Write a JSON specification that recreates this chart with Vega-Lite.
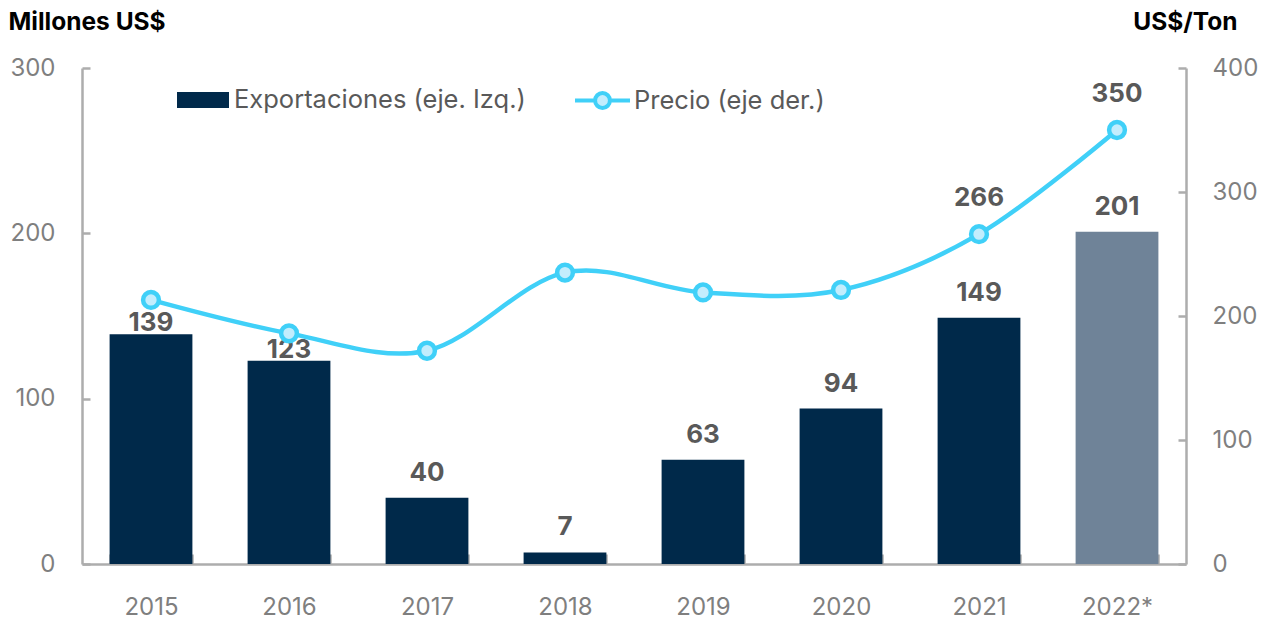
{
  "$schema": "https://vega.github.io/schema/vega-lite/v6.json",
  "width": 1104,
  "height": 496,
  "autosize": {"type": "none"},
  "padding": {"left": 82, "top": 68, "right": 83, "bottom": 57},
  "background": "white",
  "config": {
    "view": {"stroke": null},
    "font": "Inter",
    "axis": {
      "grid": false,
      "domainColor": "#ADADAD",
      "domainWidth": 2.5,
      "tickColor": "#ADADAD",
      "tickWidth": 2.5,
      "labelFont": "Inter",
      "labelFontSize": 24,
      "labelColor": "#7F7F7F",
      "titleFont": "Inter",
      "titleFontSize": 24.5,
      "titleFontWeight": "bold",
      "titleColor": "#000000"
    }
  },
  "data": {
    "values": [
      {"year": "2015", "exports": 139, "price": 213},
      {"year": "2016", "exports": 123, "price": 186},
      {"year": "2017", "exports": 40, "price": 172},
      {"year": "2018", "exports": 7, "price": 235},
      {"year": "2019", "exports": 63, "price": 219},
      {"year": "2020", "exports": 94, "price": 221},
      {"year": "2021", "exports": 149, "price": 266},
      {"year": "2022*", "exports": 201, "price": 350}
    ]
  },
  "encoding": {
    "x": {
      "field": "year",
      "type": "nominal",
      "sort": null,
      "scale": {"paddingInner": 0.4, "paddingOuter": 0.2},
      "axis": {
        "title": null,
        "labelAngle": 0,
        "tickBand": "extent",
        "tickSize": -10,
        "labelPadding": 41,
        "labelBaseline": "top"
      }
    }
  },
  "layer": [
    {
      "encoding": {
        "y": {
          "field": "exports",
          "type": "quantitative",
          "scale": {"domain": [0, 300]},
          "axis": {
            "orient": "left",
            "values": [0, 100, 200, 300],
            "tickSize": -8,
            "labelPadding": 35,
            "title": "Millones US$",
            "titleAngle": 0,
            "titleAlign": "left",
            "titleBaseline": "middle",
            "titleX": -74,
            "titleY": -46
          }
        }
      },
      "layer": [
        {
          "mark": {"type": "bar"},
          "encoding": {
            "color": {
              "condition": {"test": "datum.year === '2022*'", "value": "#6F8398"},
              "datum": "Exportaciones (eje. Izq.)",
              "scale": {"range": ["#00294A"]},
              "legend": {
                "title": null,
                "orient": "none",
                "legendX": 95,
                "legendY": 6,
                "symbolType": "M-1,-0.3077H1V0.3077H-1Z",
                "symbolSize": 2704,
                "symbolStrokeWidth": 0,
                "labelFont": "Inter",
                "labelFontSize": 25.5,
                "labelColor": "#595959",
                "labelOffset": 5,
                "labelLimit": 500,
                "padding": 0
              }
            }
          }
        },
        {
          "transform": [{"filter": "datum.year === '2015' || datum.year === '2016'"}],
          "mark": {"type": "text", "baseline": "alphabetic", "dy": -3, "fontSize": 26, "fontWeight": "bold", "color": "#595959", "font": "Inter"},
          "encoding": {"text": {"field": "exports", "type": "quantitative"}}
        },
        {
          "transform": [{"filter": "datum.year !== '2015' && datum.year !== '2016'"}],
          "mark": {"type": "text", "baseline": "alphabetic", "dy": -17, "fontSize": 26, "fontWeight": "bold", "color": "#595959", "font": "Inter"},
          "encoding": {"text": {"field": "exports", "type": "quantitative"}}
        }
      ]
    },
    {
      "encoding": {
        "y": {
          "field": "price",
          "type": "quantitative",
          "scale": {"domain": [0, 400]},
          "axis": {
            "orient": "right",
            "values": [0, 100, 200, 300, 400],
            "tickSize": -8,
            "labelPadding": 34,
            "title": "US$/Ton",
            "titleAngle": 0,
            "titleAlign": "right",
            "titleBaseline": "middle",
            "titleX": 51,
            "titleY": -46
          }
        }
      },
      "layer": [
        {
          "mark": {"type": "line", "interpolate": "cardinal", "strokeWidth": 4.5},
          "encoding": {
            "stroke": {
              "datum": "Precio (eje der.)",
              "scale": {"range": ["#40D0F8"]},
              "legend": {
                "title": null,
                "orient": "none",
                "legendX": 491,
                "legendY": 3,
                "symbolType": "M-1,0H-0.27M0.27,0H1M-0.27,0A0.27,0.27,0,1,0,0.27,0A0.27,0.27,0,1,0,-0.27,0Z",
                "symbolSize": 3025,
                "labelFont": "Inter",
                "labelFontSize": 25.5,
                "labelColor": "#595959",
                "labelOffset": 2,
                "labelLimit": 500,
                "padding": 0,
                "encode": {
                  "symbols": {
                    "update": {
                      "fill": {"value": "#C3EDFD"},
                      "stroke": {"value": "#40D0F8"},
                      "strokeWidth": {"value": 4},
                      "opacity": {"value": 1}
                    }
                  }
                }
              }
            }
          }
        },
        {
          "mark": {"type": "circle", "size": 250, "fill": "#C3EDFD", "stroke": "#40D0F8", "strokeWidth": 4.5, "opacity": 1}
        },
        {
          "transform": [{"filter": "datum.year === '2021' || datum.year === '2022*'"}],
          "mark": {"type": "text", "baseline": "alphabetic", "dy": -28, "fontSize": 26, "fontWeight": "bold", "color": "#595959", "font": "Inter"},
          "encoding": {"text": {"field": "price", "type": "quantitative"}}
        }
      ]
    }
  ],
  "resolve": {"scale": {"y": "independent"}}
}
